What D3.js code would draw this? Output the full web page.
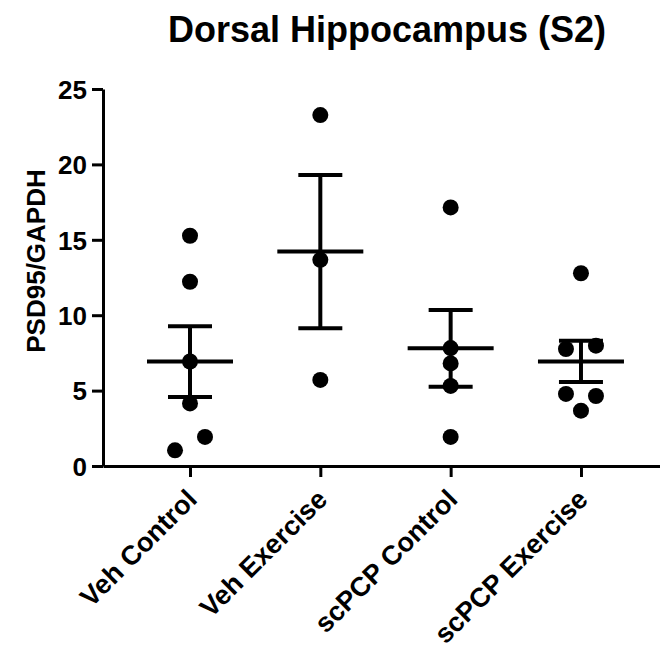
<!DOCTYPE html>
<html>
<head>
<meta charset="utf-8">
<script src="https://cdn.jsdelivr.net/npm/d3@7.9.0/dist/d3.min.js"></script>
<style>
    html, body { margin: 0; padding: 0; background: #fff; }
    svg { display: block; font-family: "Liberation Sans", Arial, sans-serif; }
</style>
</head>
<body>
<div id="chart"></div>
<script>
"use strict";

// Data
const GROUPS = ["Veh Control", "Veh Exercise", "scPCP Control", "scPCP Exercise"];
const VEH_CONTROL = [15.27, 12.22, 6.93, 4.15, 1.04, 1.93];
const VEH_EXERCISE = [23.27, 13.67, 5.71];
const SCPCP_CONTROL = [17.15, 7.82, 6.80, 5.31, 1.93];
const SCPCP_EXERCISE = [12.78, 7.76, 7.98, 4.78, 4.64, 3.67];
const Y_TICKS = [0, 5, 10, 15, 20, 25];
const TITLE = "Dorsal Hippocampus (S2)";
const Y_LABEL = "PSD95/GAPDH";

const VALUES = [VEH_CONTROL, VEH_EXERCISE, SCPCP_CONTROL, SCPCP_EXERCISE];

const width = 660;
const height = 653;
const dot_r = 8;
const row_gap = 15;   // points closer than this (px) share a row
const col_step = 30;  // horizontal spacing inside a row

const svg = d3.select("#chart")
    .append("svg")
    .attr("width", width)
    .attr("height", height);

const x = d3.scalePoint()
    .domain(GROUPS)
    .range([103, 660])
    .padding(0.637)
    .align(0.524);

const y = d3.scaleLinear()
    .domain([0, 25])
    .range([466, 89]);

// Title
svg.append("text")
    .attr("x", 387)
    .attr("y", 42)
    .attr("text-anchor", "middle")
    .style("font-size", "36px")
    .style("font-weight", "bold")
    .text(TITLE);

// Y axis label
svg.append("text")
    .attr("transform", `translate(45, 261) rotate(-90)`)
    .attr("text-anchor", "middle")
    .style("font-size", "26px")
    .style("font-weight", "bold")
    .text(Y_LABEL);

// Axes
const y_axis = svg.append("g")
    .attr("transform", "translate(103, 0)")
    .call(d3.axisLeft(y).tickValues(Y_TICKS).tickSize(11).tickSizeOuter(0).tickPadding(5));

const x_axis = svg.append("g")
    .attr("transform", "translate(0, 466)")
    .call(d3.axisBottom(x).tickSize(11).tickSizeOuter(0));

for (const ax of [y_axis, x_axis]) {
    ax.selectAll("path, line")
        .attr("stroke", "#000")
        .attr("stroke-width", 3);
    ax.selectAll("text")
        .attr("fill", "#000")
        .style("font-weight", "bold")
        .style("font-family", "Liberation Sans, Arial, sans-serif");
}

y_axis.selectAll("text")
    .attr("dy", "0.36em")
    .style("font-size", "26px");

x_axis.selectAll("text")
    .attr("text-anchor", "end")
    .attr("dy", null)
    .attr("y", null)
    .attr("transform", "translate(8, 35) rotate(-45)")
    .style("font-size", "27px");

// Spread close points side by side (rows, data order left to right)
function swarm(vals) {
    const idx = d3.range(vals.length).sort((a, b) => vals[b] - vals[a]);
    const rows = [];
    let cur = null;
    for (const i of idx) {
        if (cur && Math.abs(y(vals[cur[0]]) - y(vals[i])) < row_gap) {
            cur.push(i);
        } else {
            cur = [i];
            rows.push(cur);
        }
    }
    const off = new Array(vals.length).fill(0);
    for (const row of rows) {
        row.sort((a, b) => a - b);
        row.forEach((i, k) => off[i] = (k - (row.length - 1) / 2) * col_step);
    }
    return off;
}

const plot = svg.append("g");

VALUES.forEach((vals, gi) => {
    const cx = x(GROUPS[gi]);
    const offs = swarm(vals);

    plot.selectAll(null)
        .data(vals)
        .join("circle")
        .attr("cx", (d, i) => cx + offs[i])
        .attr("cy", (d) => y(d))
        .attr("r", dot_r)
        .attr("fill", "#000");

    const mean = d3.mean(vals);
    const sem = d3.deviation(vals) / Math.sqrt(vals.length);

    const g = plot.append("g")
        .attr("stroke", "#000")
        .attr("stroke-width", 4);

    // mean line
    g.append("line")
        .attr("x1", cx - 43).attr("x2", cx + 43)
        .attr("y1", y(mean)).attr("y2", y(mean));
    // SEM whisker
    g.append("line")
        .attr("x1", cx).attr("x2", cx)
        .attr("y1", y(mean + sem)).attr("y2", y(mean - sem));
    for (const v of [mean + sem, mean - sem]) {
        g.append("line")
            .attr("x1", cx - 22).attr("x2", cx + 22)
            .attr("y1", y(v)).attr("y2", y(v));
    }
});
</script>
</body>
</html>
